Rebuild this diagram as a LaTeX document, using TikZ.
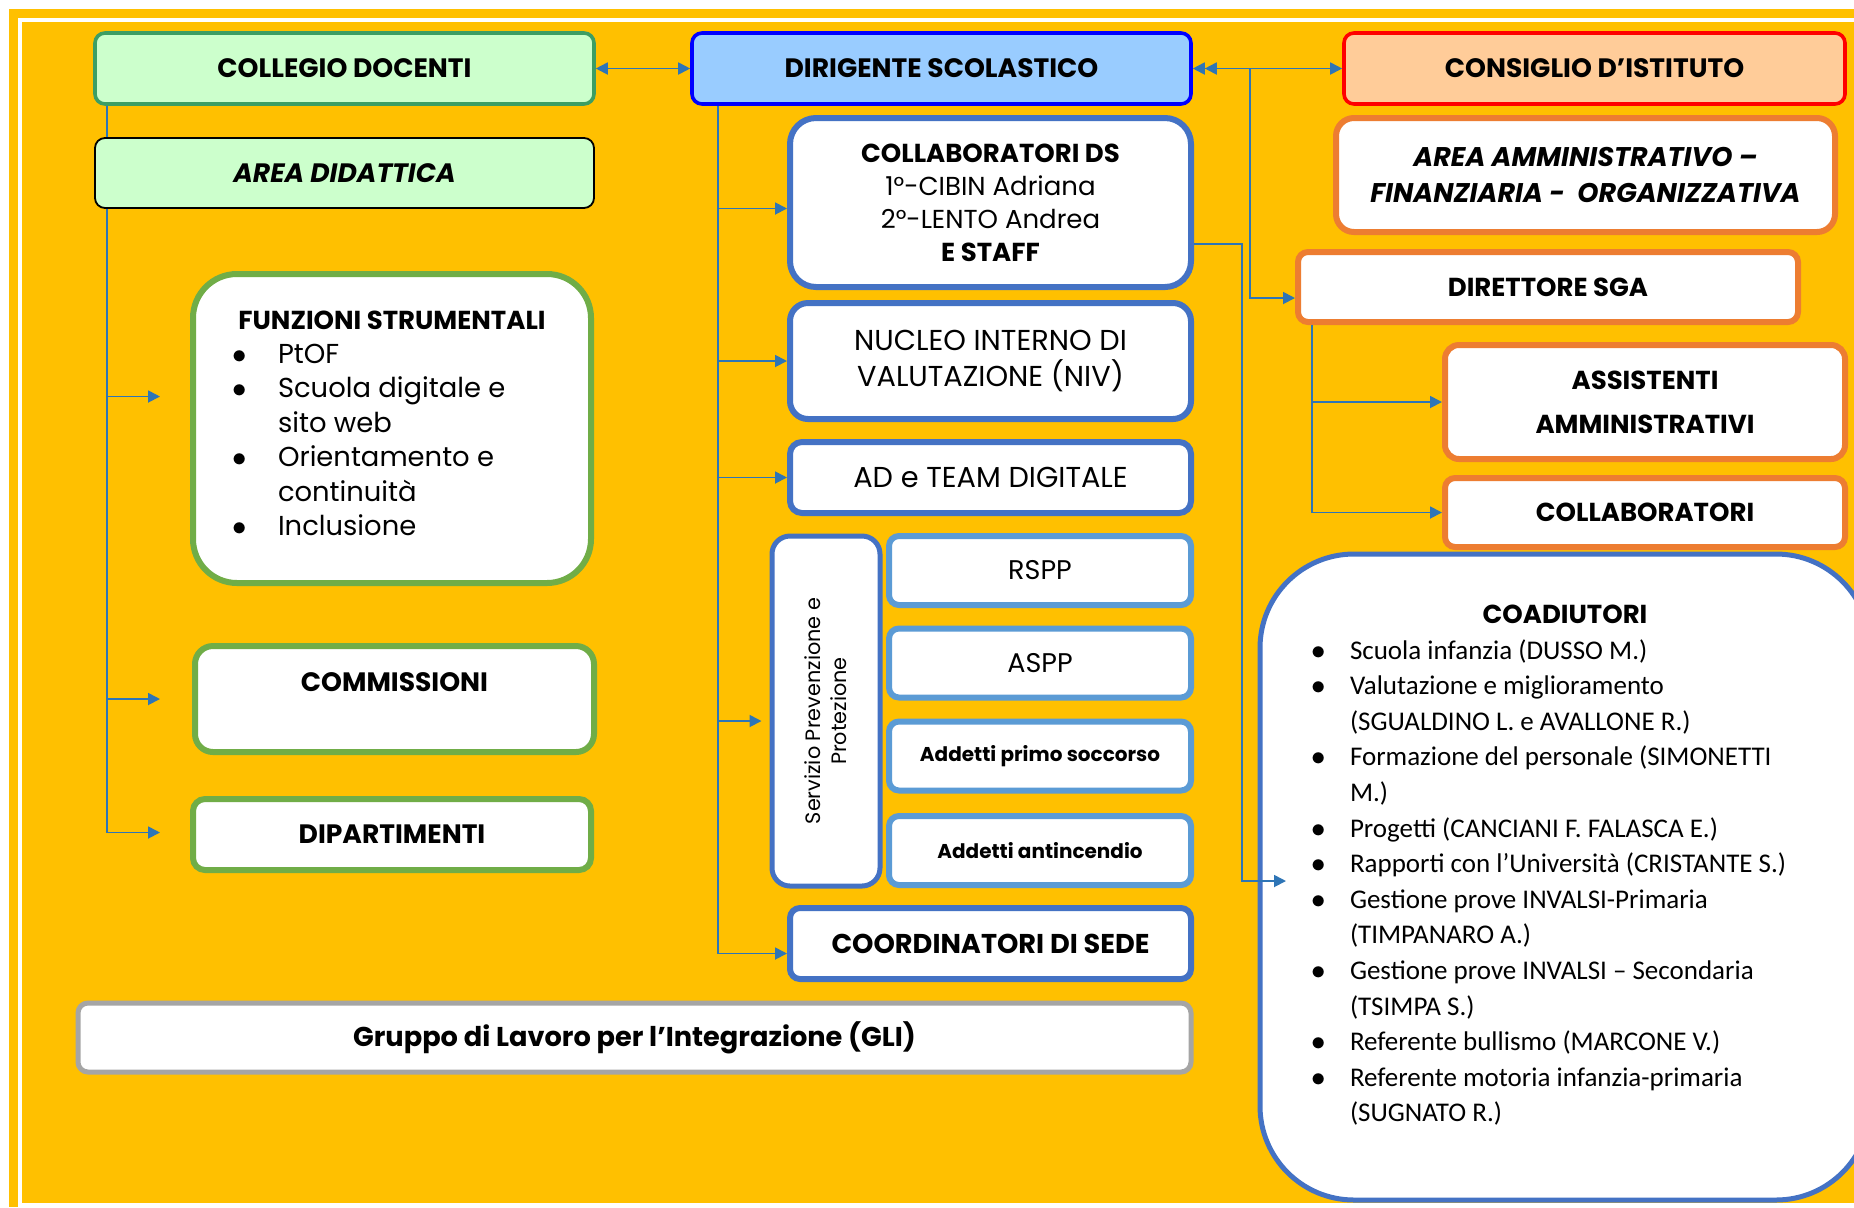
\documentclass[tikz,border=0pt]{standalone}
\usepackage{fontspec}
\setmainfont{Poppins}
\newfontfamily\calibri{Carlito}
\usetikzlibrary{arrows.meta}

\definecolor{sfondo}{HTML}{FFC000}
\definecolor{verdechiaro}{HTML}{CCFFCC}
\definecolor{verdescuro}{HTML}{3C9E64}
\definecolor{verde}{HTML}{70AD47}
\definecolor{celestino}{HTML}{99CCFF}
\definecolor{bluds}{HTML}{0000FF}
\definecolor{pesca}{HTML}{FFCC99}
\definecolor{azzurro}{HTML}{4472C4}
\definecolor{celeste}{HTML}{5B9BD5}
\definecolor{arancio}{HTML}{ED7D31}
\definecolor{grigio}{HTML}{A5A5A5}
\definecolor{freccia}{HTML}{2E75B6}

\newcommand{\tit}{\fontsize{13.3}{16}\selectfont\bfseries}
\newcommand{\reg}{\fontsize{13}{16.5}\selectfont}
\newcommand{\pallino}[1]{\makebox[#1][l]{\hspace{-3pt}$\bullet$}}

\begin{document}
\begin{tikzpicture}[x=0.5pt,y=-0.5pt,
		>={Triangle[length=6pt,width=6pt]},
		conn/.style={draw=freccia, line width=0.9pt},
		scatola/.style={draw, rectangle, fill=white, text=black, align=center, inner sep=0pt},
		testa/.style={scatola, line width=1.8pt, rounded corners=5pt, minimum width=249.5pt, minimum height=35.5pt, font=\tit},
		verde/.style={scatola, draw=verde, line width=3pt},
		blu/.style={scatola, draw=azzurro, line width=3pt},
		celeste/.style={scatola, draw=celeste, line width=3pt, rounded corners=5pt, minimum width=151pt, minimum height=34.5pt, font=\fontsize{13.5}{16}\selectfont},
		arancio/.style={scatola, draw=arancio, line width=3pt}]
	\useasboundingbox (0,0) rectangle (1854,1207);
	\clip (0,0) rectangle (1854,1207);
	\fill[white] (0,0) rectangle (1854,1207);
	\fill[sfondo] (9,9) rectangle (1854,1207);
	\draw[white, line width=2pt] (20,20) rectangle (1880,1205);

	% area didattica
	\node[testa, fill=verdechiaro, draw=verdescuro] (collegio) at (344.5,68.5) {COLLEGIO DOCENTI};
	\node[verde, rounded corners=22pt, minimum width=199pt, minimum height=154.5pt] (funzioni) at (392,428.5) {\parbox[c][118pt][t]{154pt}{\raggedright\fontsize{13.7}{17.2}\selectfont
		\centerline{\fontsize{13}{16}\selectfont\bfseries FUNZIONI STRUMENTALI}
		\pallino{20pt}PtOF\\
		\pallino{20pt}Scuola digitale e\\
		\hspace*{20pt}sito web\\
		\pallino{20pt}Orientamento e\\
		\hspace*{20pt}continuità\\
		\pallino{20pt}Inclusione}};
	\node[verde, rounded corners=9pt, minimum width=199.5pt, minimum height=53pt, text height=9pt, text depth=17pt, font=\tit] (commissioni) at (394.5,699) {COMMISSIONI};
	\node[verde, rounded corners=6pt, minimum width=199pt, minimum height=35.5pt, font=\tit] (dipartimenti) at (392,834.5) {DIPARTIMENTI};
	\draw[conn,->,shorten >=15pt] ([xshift=7pt]collegio.south west) |- ([yshift=16pt]funzioni.west);
	\draw[conn,->,shorten >=16pt] ([xshift=7pt]collegio.south west) |- (commissioni.west);
	\draw[conn,->,shorten >=15pt] ([xshift=7pt]collegio.south west) |- ([yshift=1pt]dipartimenti.west);
	\node[testa, fill=verdechiaro, draw=black, line width=0.9pt, minimum height=35pt, font=\tit\itshape] (didattica) at (344.5,173) {AREA DIDATTICA};
	\node[scatola, draw=grigio, line width=2.5pt, rounded corners=5pt, minimum width=556.5pt, minimum height=34.5pt, font=\fontsize{13.6}{16}\selectfont\bfseries] (gli) at (634.5,1037.5) {Gruppo di Lavoro per l’Integrazione (GLI)};

	% dirigente
	\node[testa, fill=celestino, draw=bluds] (ds) at (941.5,68.5) {DIRIGENTE SCOLASTICO};
	\draw[conn,<->] (collegio) -- (ds);
	\node[blu, rounded corners=13pt, minimum width=200.5pt, minimum height=84.5pt, font=\reg] (collabds) at (990.5,202.5) {{\fontsize{13}{16}\selectfont\bfseries COLLABORATORI DS}\\1°-CIBIN Adriana\\2°-LENTO Andrea\\{\fontsize{13}{16}\selectfont\bfseries E STAFF}};
	\node[blu, rounded corners=9pt, minimum width=200.5pt, minimum height=58pt, font=\fontsize{14.4}{17.7}\selectfont] (niv) at (990.5,361) {NUCLEO INTERNO DI\\VALUTAZIONE (NIV)};
	\node[blu, rounded corners=6pt, minimum width=200.5pt, minimum height=35.5pt, font=\fontsize{14.4}{17}\selectfont] (team) at (990.5,477.5) {AD e TEAM DIGITALE};
	\node[blu, line width=2.5pt, rounded corners=9pt, rotate=90, minimum width=175pt, minimum height=54pt, font=\fontsize{10.4}{13}\selectfont] (servizio) at (826,711) {Servizio Prevenzione e\\Protezione};
	\node[celeste] (rspp) at (1040,570.5) {RSPP};
	\node[celeste] (aspp) at (1040,663) {ASPP};
	\node[celeste, font=\fontsize{10}{12}\selectfont\bfseries] (soccorso) at (1040,756) {Addetti primo soccorso};
	\node[celeste, font=\fontsize{10}{12}\selectfont\bfseries] (antincendio) at (1040,850.5) {Addetti antincendio};
	\node[blu, rounded corners=5pt, minimum width=200.5pt, minimum height=35.5pt, font=\fontsize{13.6}{16}\selectfont\bfseries] (coord) at (990.5,943.5) {COORDINATORI DI SEDE};
	\draw[conn,->] ([xshift=14pt]ds.south west) |- ([yshift=-3pt]collabds.west);
	\draw[conn,->] ([xshift=14pt]ds.south west) |- (niv.west);
	\draw[conn,->] ([xshift=14pt]ds.south west) |- (team.west);
	\draw[conn,->,shorten >=4pt] ([xshift=14pt]ds.south west) |- ([yshift=-5pt]servizio.north);
	\draw[conn,->] ([xshift=14pt]ds.south west) |- ([yshift=-5pt]coord.west);

	% area amministrativa
	\node[testa, minimum width=250.5pt, fill=pesca, draw=red] (consiglio) at (1594.5,68.5) {CONSIGLIO D’ISTITUTO};
	\draw[conn,<->] (ds) -- (consiglio);
	\node[arancio, rounded corners=9pt, minimum width=249.5pt, minimum height=57pt, font=\fontsize{13.5}{17.7}\selectfont\bfseries\itshape] (amministrativa) at (1585.5,175) {AREA AMMINISTRATIVO –\\FINANZIARIA -\ \ ORGANIZZATIVA};
	\node[arancio, rounded corners=5pt, minimum width=250pt, minimum height=35pt, font=\fontsize{13}{16}\selectfont\bfseries] (dsga) at (1548,287) {DIRETTORE SGA};
	\draw[conn,<->] ([xshift=6pt]ds.east) -| ([xshift=-22.5pt,yshift=-5.5pt]dsga.west) -- ([yshift=-5.5pt]dsga.west);
	\node[arancio, rounded corners=7pt, minimum width=200pt, minimum height=57pt, font=\fontsize{13}{22}\selectfont\bfseries] (assistenti) at (1645,402) {ASSISTENTI\\AMMINISTRATIVI};
	\node[arancio, rounded corners=5pt, minimum width=200pt, minimum height=34.5pt, font=\fontsize{13}{16}\selectfont\bfseries] (collaboratori) at (1645,512.5) {COLLABORATORI};
	\draw[conn,->] ([xshift=8.5pt]dsga.south west) |- (assistenti.west);
	\draw[conn,->] ([xshift=8.5pt]dsga.south west) |- (collaboratori.west);

	% coadiutori
	\node[blu, line width=2.5pt, rounded corners=47pt, minimum width=305pt, minimum height=323pt] (coadiutori) at (1565,877) {\parbox[c][272pt][t]{248pt}{\raggedright
		\centerline{\fontsize{13}{18}\selectfont\bfseries COADIUTORI}
		\calibri\fontsize{13.5}{17.8}\selectfont
		\pallino{16.5pt}Scuola infanzia (DUSSO M.)\\
		\pallino{16.5pt}Valutazione e miglioramento\\
		\hspace*{16.5pt}(SGUALDINO L. e AVALLONE R.)\\
		\pallino{16.5pt}Formazione del personale (SIMONETTI\\
		\hspace*{16.5pt}M.)\\
		\pallino{16.5pt}Progetti (CANCIANI F. FALASCA E.)\\
		\pallino{16.5pt}Rapporti con l’Università (CRISTANTE S.)\\
		\pallino{16.5pt}Gestione prove INVALSI-Primaria\\
		\hspace*{16.5pt}(TIMPANARO A.)\\
		\pallino{16.5pt}Gestione prove INVALSI – Secondaria\\
		\hspace*{16.5pt}(TSIMPA S.)\\
		\pallino{16.5pt}Referente bullismo (MARCONE V.)\\
		\pallino{16.5pt}Referente motoria infanzia-primaria\\
		\hspace*{16.5pt}(SUGNATO R.)}};
	\coordinate (ingresso) at (1286,881);
	\draw[conn,->] ([yshift=-20.75pt]collabds.east) -- ++(24pt,0) |- (ingresso);
\end{tikzpicture}
\end{document}
